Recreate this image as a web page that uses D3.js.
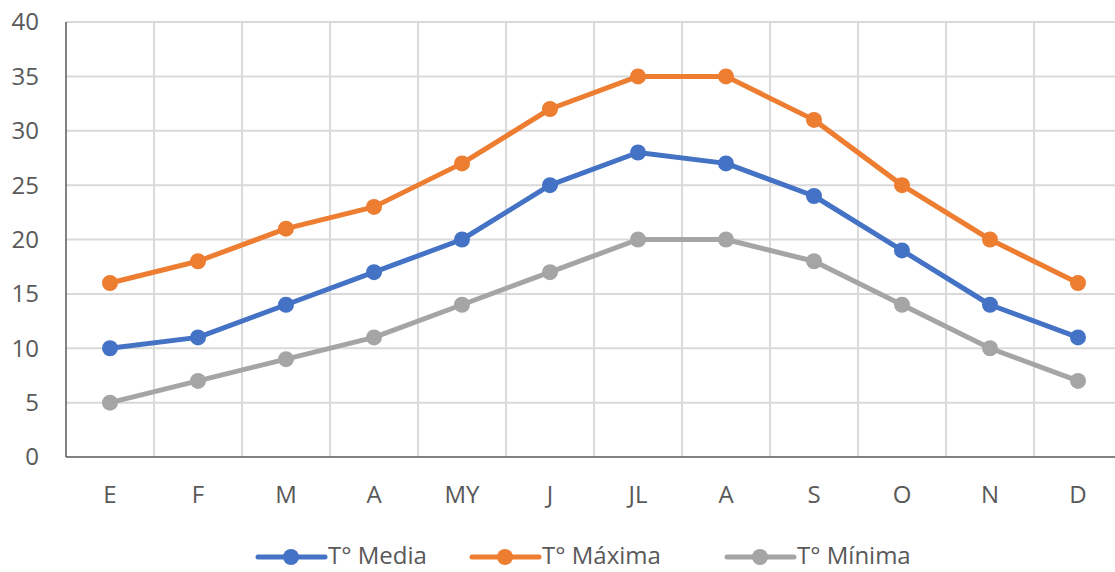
<!DOCTYPE html>
<html><head><meta charset="utf-8">
<script src="https://cdn.jsdelivr.net/npm/d3@7"></script>
<style>body{margin:0;background:#fff}svg{display:block}text{font-family:"Open Sans",Lato,sans-serif;fill:#595959}</style>
</head><body><svg id="c" width="1115" height="572"></svg>
<script>
const months = ["E","F","M","A","MY","J","JL","A","S","O","N","D"];
const media  = [10,11,14,17,20,25,28,27,24,19,14,11];
const maxima = [16,18,21,23,27,32,35,35,31,25,20,16];
const minima = [5,7,9,11,14,17,20,20,18,14,10,7];
const yTicks = [0,5,10,15,20,25,30,35,40];
const seriesNames = ["T° Media","T° Máxima","T° Mínima"];
const colors = ["#4472C4","#ED7D31","#A5A5A5"];

(function(){
const svg = d3.select("#c");
const pL = 66, pR = 1122, pT = 22, pB = 457;
const x = d3.scaleBand().domain(d3.range(months.length)).range([pL,pR]);
const y = d3.scaleLinear().domain([0,40]).range([pB,pT]);

svg.append("g").selectAll("line").data(yTicks.filter(d=>d>0)).join("line")
  .attr("x1",pL).attr("x2",pR).attr("y1",d=>y(d)).attr("y2",d=>y(d))
  .attr("stroke","#D9D9D9").attr("stroke-width",2);
svg.append("g").selectAll("line").data(d3.range(1,months.length)).join("line")
  .attr("x1",d=>x(d)).attr("x2",d=>x(d)).attr("y1",pT).attr("y2",pB)
  .attr("stroke","#D9D9D9").attr("stroke-width",2);
svg.append("line").attr("x1",pL).attr("x2",pR).attr("y1",pB).attr("y2",pB).attr("stroke","#595959").attr("stroke-width",1.5);
svg.append("line").attr("x1",pL).attr("x2",pL).attr("y1",pT).attr("y2",pB).attr("stroke","#595959").attr("stroke-width",1.5);

svg.append("g").selectAll("text").data(yTicks).join("text")
  .attr("x",39).attr("y",d=>y(d)).attr("dy","0.35em").attr("text-anchor","end")
  .attr("font-size",24).text(d=>d);
svg.append("g").selectAll("text").data(months).join("text")
  .attr("x",(d,i)=>x(i)+x.bandwidth()/2).attr("y",503).attr("text-anchor","middle")
  .attr("font-size",24).text(d=>d);

const data = [media,maxima,minima];
const line = d3.line().x((d,i)=>x(i)+x.bandwidth()/2).y(d=>y(d));
[2,1,0].forEach(k=>{
  const g = svg.append("g");
  g.append("path").datum(data[k]).attr("d",line).attr("fill","none")
    .attr("stroke",colors[k]).attr("stroke-width",5).attr("stroke-linejoin","round").attr("stroke-linecap","round");
  g.selectAll("circle").data(data[k]).join("circle")
    .attr("cx",(d,i)=>x(i)+x.bandwidth()/2).attr("cy",d=>y(d)).attr("r",8).attr("fill",colors[k]);
});

const legX = [258,472,727];
const lg = svg.append("g");
seriesNames.forEach((n,i)=>{
  const gx = legX[i], gy = 557;
  lg.append("line").attr("x1",gx).attr("x2",gx+67).attr("y1",gy).attr("y2",gy)
    .attr("stroke",colors[i]).attr("stroke-width",5).attr("stroke-linecap","round");
  lg.append("circle").attr("cx",gx+33).attr("cy",gy).attr("r",8).attr("fill",colors[i]);
  lg.append("text").attr("x",gx+70).attr("y",gy-1).attr("dy","0.35em").attr("font-size",24).text(n);
});
})();
</script></body></html>
